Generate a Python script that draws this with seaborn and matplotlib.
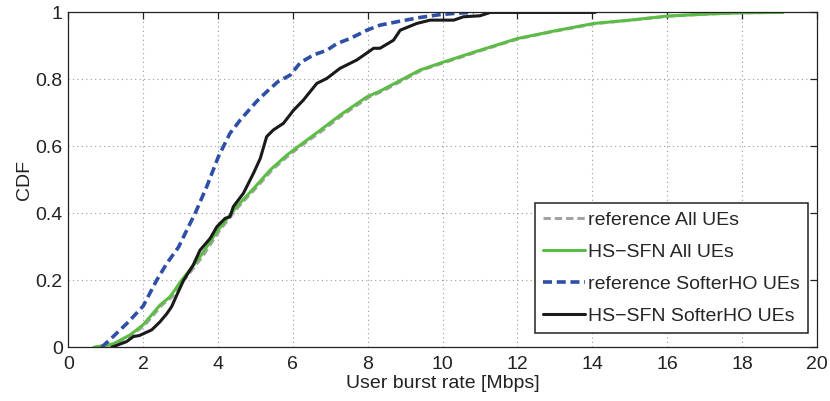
import matplotlib
matplotlib.use("Agg")
import matplotlib.pyplot as plt
import seaborn as sns
import pandas as pd
from matplotlib.ticker import FormatStrFormatter, MultipleLocator

# Empirical CDF samples of user burst rate [Mbps]
ref_all_x = [0.72, 1.25, 1.7, 2.05, 2.5, 2.78, 3.06, 3.58, 4.05, 4.55, 5.05, 5.45, 5.9, 6.2,
             6.8, 7.32, 8.05, 8.4, 9.45, 10.1, 11.05, 12.05, 13.05, 14.1, 15.05, 16.05, 17.05,
             18.0, 19.1]
ref_all_y = [0.0, 0.01, 0.037, 0.067, 0.126, 0.151, 0.196, 0.27, 0.35, 0.42, 0.48, 0.53, 0.574,
             0.6, 0.648, 0.693, 0.748, 0.765, 0.828, 0.852, 0.887, 0.922, 0.945, 0.967, 0.977,
             0.989, 0.995, 0.999, 1.0]

sfn_all_x = [0.68, 1.2, 1.65, 2.0, 2.45, 2.72, 3.0, 3.52, 4.0, 4.5, 5.0, 5.4, 5.84, 6.15,
             6.73, 7.26, 7.98, 8.33, 9.4, 10.03, 11.0, 12.0, 13.0, 14.04, 15.0, 16.0, 17.0,
             18.0, 19.1]
sfn_all_y = [0.0, 0.01, 0.037, 0.067, 0.126, 0.151, 0.196, 0.27, 0.35, 0.42, 0.48, 0.53, 0.574,
             0.6, 0.648, 0.693, 0.748, 0.765, 0.828, 0.852, 0.887, 0.922, 0.945, 0.967, 0.977,
             0.989, 0.995, 0.999, 1.0]

ref_sho_x = [0.89, 1.2, 1.6, 2.0, 2.36, 2.63, 2.95, 3.21, 3.39, 3.7, 4.01, 4.32, 4.59, 4.8,
             5.04, 5.3, 5.6, 5.93, 6.2, 6.55, 6.91, 7.18, 7.53, 7.98, 8.33, 8.87, 9.4, 9.9,
             10.4, 10.83]
ref_sho_y = [0.0, 0.032, 0.075, 0.123, 0.2, 0.25, 0.3, 0.36, 0.4, 0.48, 0.569, 0.639, 0.678,
             0.705, 0.735, 0.763, 0.793, 0.813, 0.85, 0.873, 0.887, 0.907, 0.922, 0.947, 0.962,
             0.974, 0.985, 0.993, 0.998, 1.0]

sfn_sho_x = [1.16, 1.56, 1.74, 1.9, 2.23, 2.45, 2.63, 2.76, 2.9, 3.08, 3.34, 3.52, 3.79, 3.97,
             4.19, 4.32, 4.41, 4.68, 4.95, 5.13, 5.3, 5.48, 5.75, 6.02, 6.28, 6.64, 6.91, 7.26,
             7.71, 8.16, 8.33, 8.69, 8.87, 9.31, 9.67, 10.3, 10.56, 11.0, 11.28, 14.08]
sfn_sho_y = [0.0, 0.017, 0.032, 0.035, 0.052, 0.076, 0.1, 0.121, 0.156, 0.2, 0.246, 0.29, 0.325,
             0.36, 0.385, 0.39, 0.42, 0.46, 0.52, 0.564, 0.629, 0.649, 0.669, 0.708, 0.738,
             0.788, 0.803, 0.833, 0.858, 0.893, 0.893, 0.917, 0.947, 0.967, 0.977, 0.977,
             0.987, 0.99, 1.0, 1.0]

labels = ["reference All UEs", "HS\u2212SFN All UEs",
          "reference SofterHO UEs", "HS\u2212SFN SofterHO UEs"]

sns.set_style("white")
plt.rcParams["font.family"] = ["Liberation Sans", "DejaVu Sans"]
plt.rcParams["font.size"] = 14

fig = plt.figure(figsize=(8.3, 4.01), dpi=100)
ax = fig.add_axes([0.0823, 0.134, 0.9017, 0.835])

series = [
    (ref_all_x, ref_all_y, labels[0], "#a3a3a3", 2.2, (2.4, 1.3)),
    (sfn_all_x, sfn_all_y, labels[1], "#5cbc45", 2.2, None),
    (ref_sho_x, ref_sho_y, labels[2], "#2e4fa6", 2.6, (2.5, 1.3)),
    (sfn_sho_x, sfn_sho_y, labels[3], "#1a1a1a", 2.2, None),
]
for xs, ys, lab, col, lw, dash in series:
    df = pd.DataFrame({"rate": xs, "cdf": ys})
    line_ax = sns.lineplot(data=df, x="rate", y="cdf", ax=ax, color=col, linewidth=lw,
                           label=lab, estimator=None, sort=False)
    if dash is not None:
        line_ax.lines[-1].set_dashes(dash)

ax.set_xlim(0, 20)
ax.set_ylim(0, 1)
ax.xaxis.set_major_locator(MultipleLocator(2))
ax.yaxis.set_major_locator(MultipleLocator(0.2))
ax.yaxis.set_major_formatter(FormatStrFormatter("%g"))
ax.xaxis.set_major_formatter(FormatStrFormatter("%g"))
ax.grid(True, color="#9a9a9a", linestyle=(0, (1, 3)), linewidth=0.8)
ax.tick_params(direction="in", length=5, width=0.9, top=True, right=True,
               labelsize=14, colors="#222222")
ax.tick_params(axis="x", pad=6)
ax.tick_params(axis="y", pad=4)
for sp in ax.spines.values():
    sp.set_color("#222222")
    sp.set_linewidth(0.9)

ax.set_xlabel("User burst rate [Mbps]", fontsize=14, color="#222222", labelpad=2)
ax.set_ylabel("CDF", fontsize=14, color="#222222", labelpad=2)

leg = ax.legend(loc="lower right", bbox_to_anchor=(0.988, 0.043), fontsize=14,
                frameon=True, fancybox=False, framealpha=1, edgecolor="#222222",
                handlelength=2.2, handletextpad=0.15, borderpad=0.4, labelspacing=0.75,
                borderaxespad=0)
leg.get_frame().set_linewidth(1.1)

fig.savefig("out.png", dpi=100)
